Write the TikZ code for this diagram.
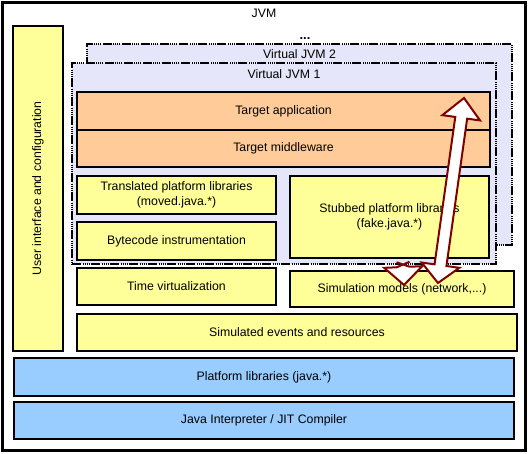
\documentclass[tikz,border=0pt]{standalone}
\usepackage{fontspec}
\setmainfont{Liberation Sans}
\usetikzlibrary{calc}
\definecolor{lav}{RGB}{230,230,250}
\definecolor{peach}{RGB}{255,204,153}
\definecolor{ylw}{RGB}{255,255,153}
\definecolor{blu}{RGB}{153,204,255}
\definecolor{darkred}{RGB}{128,0,0}
\tikzset{
  box/.style={draw=black, line width=1.2pt, inner sep=0pt, outer sep=0pt, align=center, font=\fontsize{12.3}{14.5}\selectfont},
  ybox/.style={box, fill=ylw},
  pbox/.style={box, fill=peach},
  bbox/.style={box, fill=blu},
  vjvm/.style={draw=black, fill=lav, line width=1.8pt, inner sep=0pt, outer sep=0pt,
    dash pattern=on 9pt off 1.5pt on 1pt off 1pt on 1pt off 1pt on 1pt off 1pt on 1pt off 1.5pt},
  lbl/.style={inner sep=0pt, font=\fontsize{12.3}{14.5}\selectfont},
  blockarrow/.style={draw=darkred, fill=white, line width=2pt, line join=miter},
}
\begin{document}
\begin{tikzpicture}[x=1pt,y=-1pt]
\useasboundingbox (0,0) rectangle (528,453);
% outer JVM frame
\node[draw=black, line width=3pt, minimum width=523pt, minimum height=448pt, inner sep=0pt] (jvm) at (263.5,226) {};
\node[lbl] (jvmlbl) at (264,13) {JVM};
% user interface
\node[ybox, minimum width=50pt, minimum height=325pt] (ui) at (38,188.5) {};
\node[lbl, rotate=90] (uilbl) at (ui.center) {User interface and configuration};
% virtual JVMs
\node[lbl, font=\fontsize{13}{15}\bfseries] (dots) at (305,38.5) {...};
\node[vjvm, minimum width=425pt, minimum height=201pt] (vj2) at (299.5,144.5) {};
\node[lbl] (vj2lbl) at (299.5,54) {Virtual JVM 2};
\node[vjvm, minimum width=424pt, minimum height=201pt] (vj1) at (284,163.5) {};
\node[lbl] (vj1lbl) at (284,74) {Virtual JVM 1};
% boxes
\node[pbox, minimum width=413pt, minimum height=38pt] (tapp) at (283.5,111) {Target application};
\node[pbox, minimum width=413pt, minimum height=37pt] (tmw) at (283.5,148.5) {Target middleware};
\node[ybox, minimum width=199pt, minimum height=38pt] (tpl) at (176.5,195) {Translated platform libraries\\(moved.java.*)};
\node[ybox, minimum width=199pt, minimum height=38pt] (bci) at (176.5,241) {Bytecode instrumentation};
\node[ybox, minimum width=199pt, minimum height=82pt] (spl) at (389.5,217) {Stubbed platform libraries\\(fake.java.*)};
\node[ybox, minimum width=199pt, minimum height=37pt] (tv) at (176.5,286.5) {Time virtualization};
\node[ybox, minimum width=224pt, minimum height=36pt] (sm) at (402,289) {Simulation models (network,...)};
\node[ybox, minimum width=440pt, minimum height=37pt] (ser) at (297,332.5) {Simulated events and resources};
\node[bbox, minimum width=500pt, minimum height=38pt] (pl) at (264,377) {Platform libraries (java.*)};
\node[bbox, minimum width=500pt, minimum height=37pt] (ji) at (264,420.5) {Java Interpreter / JIT Compiler};
% short block arrow
\coordinate (s1) at (403,262);
\coordinate (s2) at (404,285);
\coordinate (sh) at ($(s2)!18pt!(s1)$);
\draw[blockarrow] ($(s1)!6.5pt!90:(s2)$) -- ($(sh)!6.5pt!-90:(s2)$) -- ($(sh)!19pt!-90:(s2)$) -- (s2)
  -- ($(sh)!19pt!90:(s2)$) -- ($(sh)!6.5pt!90:(s2)$) -- ($(s1)!6.5pt!-90:(s2)$);
% long double block arrow
\coordinate (a1) at (464,98);
\coordinate (a2) at (438,283);
\coordinate (h1) at ($(a1)!20pt!(a2)$);
\coordinate (h2) at ($(a2)!18pt!(a1)$);
\draw[blockarrow] (a1) -- ($(h1)!19pt!90:(a1)$) -- ($(h1)!6pt!90:(a1)$) -- ($(h2)!6pt!-90:(a2)$)
  -- ($(h2)!19pt!-90:(a2)$) -- (a2) -- ($(h2)!19pt!90:(a2)$) -- ($(h2)!6pt!90:(a2)$)
  -- ($(h1)!6pt!-90:(a1)$) -- ($(h1)!19pt!-90:(a1)$) -- cycle;
\end{tikzpicture}
\end{document}
